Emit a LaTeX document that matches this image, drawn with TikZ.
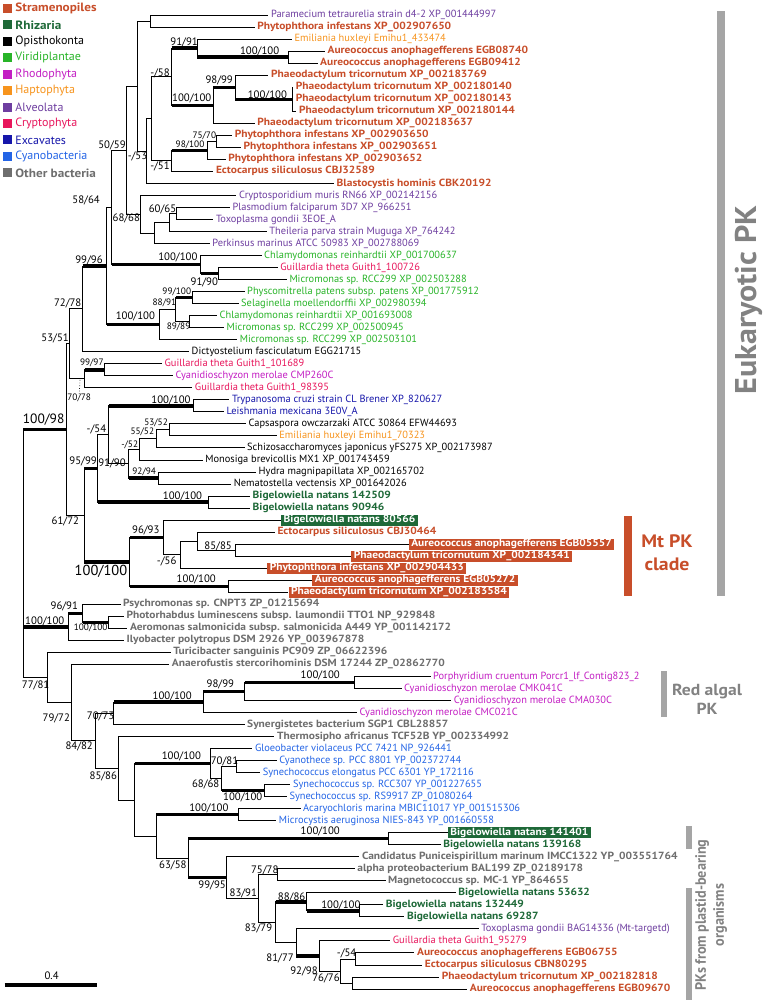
\documentclass[tikz,border=0pt]{standalone}
\usepackage{fontspec}
\setmainfont{PT Sans}[BoldFeatures={FakeStretch=1.1}]
\usepackage{graphicx}
\usetikzlibrary{calc}
\definecolor{stram}{RGB}{200,78,42}
\definecolor{rhiz}{RGB}{30,105,56}
\definecolor{viri}{RGB}{40,180,40}
\definecolor{rhod}{RGB}{195,30,195}
\definecolor{hapt}{RGB}{247,148,29}
\definecolor{alve}{RGB}{110,62,160}
\definecolor{cryp}{RGB}{232,22,92}
\definecolor{exca}{RGB}{22,22,170}
\definecolor{cyb}{RGB}{35,100,230}
\definecolor{othb}{RGB}{110,110,110}
\definecolor{bargray}{RGB}{165,165,165}
\definecolor{anngray}{RGB}{130,130,130}
\newcommand{\lfn}{\fontsize{10.4}{11}\selectfont}
\newcommand{\lgn}{\fontsize{12}{13}\selectfont}
\newcommand{\lbn}{\fontsize{10.8}{11}\selectfont}
\newcommand{\lbsm}{\fontsize{9.3}{10}\selectfont}
\tikzset{
 br/.style={line width=0.9pt},
 tk/.style={line width=3.4pt},
 leaf/.style={anchor=west, inner xsep=2.5pt, inner ysep=1pt, font=\lfn},
 st/.style={leaf, text=stram, font=\lfn\bfseries},
 rz/.style={leaf, text=rhiz, font=\lfn\bfseries},
 op/.style={leaf, text=black},
 vi/.style={leaf, text=viri},
 rh/.style={leaf, text=rhod},
 ha/.style={leaf, text=hapt},
 al/.style={leaf, text=alve},
 cr/.style={leaf, text=cryp},
 ex/.style={leaf, text=exca},
 cy/.style={leaf, text=cyb},
 ob/.style={leaf, text=othb, font=\lfn\bfseries},
 bxs/.style={leaf, fill=stram, text=white, font=\lfn\bfseries, minimum height=11pt, inner ysep=0.5pt},
 bxr/.style={leaf, fill=rhiz, text=white, font=\lfn\bfseries, minimum height=11pt, inner ysep=0.5pt},
 lb/.style={inner sep=0pt, font=\lbn},
 lbs/.style={inner sep=0pt, font=\lbsm},
 lbb/.style={inner sep=0pt, font=\fontsize{13.5}{14}\selectfont},
 lgsq/.style={minimum size=9pt, inner sep=0pt},
 lgt/.style={anchor=west, inner sep=0pt, font=\lgn},
}
\begin{document}
\begin{tikzpicture}[x=1pt,y=-1pt]
\useasboundingbox (0,0) rectangle (764,1004);
\fill[white] (0,0) rectangle (764,1004);

% ---------------- legend
\node[lgsq, fill=stram] (q1) at (7.3,8.3) {};
\node[lgt, text=stram, font=\lgn\bfseries] (g1) at (15.2,8.3) {Stramenopiles};
\node[lgsq, fill=rhiz] (q2) at (7.3,24.8) {};
\node[lgt, text=rhiz, font=\lgn\bfseries] (g2) at (15.2,24.8) {Rhizaria};
\node[lgsq, fill=black] (q3) at (7.3,41.2) {};
\node[lgt, text=black] (g3) at (15.2,41.2) {Opisthokonta};
\node[lgsq, fill=viri] (q4) at (7.3,57.7) {};
\node[lgt, text=viri] (g4) at (15.2,57.7) {Viridiplantae};
\node[lgsq, fill=rhod] (q5) at (7.3,74.1) {};
\node[lgt, text=rhod] (g5) at (15.2,74.1) {Rhodophyta};
\node[lgsq, fill=hapt] (q6) at (7.3,90.6) {};
\node[lgt, text=hapt] (g6) at (15.2,90.6) {Haptophyta};
\node[lgsq, fill=alve] (q7) at (7.3,107.0) {};
\node[lgt, text=alve] (g7) at (15.2,107.0) {Alveolata};
\node[lgsq, fill=cryp] (q8) at (7.3,123.5) {};
\node[lgt, text=cryp] (g8) at (15.2,123.5) {Cryptophyta};
\node[lgsq, fill=exca] (q9) at (7.3,139.9) {};
\node[lgt, text=exca] (g9) at (15.2,139.9) {Excavates};
\node[lgsq, fill=cyb] (q10) at (7.3,156.4) {};
\node[lgt, text=cyb] (g10) at (15.2,156.4) {Cyanobacteria};
\node[lgsq, fill=othb] (q11) at (7.3,172.8) {};
\node[lgt, text=othb, font=\lgn\bfseries] (g11) at (15.2,172.8) {Other bacteria};

% ---------------- leaves
\node[al] (l1) at (268.4,15.0) {Paramecium tetraurelia strain d4-2 XP\_001444997};
\node[st] (l2) at (254.6,27.0) {Phytophthora infestans XP\_002907650};
\node[ha] (l3) at (291.8,39.1) {Emiliania huxleyi Emihu1\_433474};
\node[st] (l4) at (324.9,51.1) {Aureococcus anophagefferens EGB08740};
\node[st] (l5) at (317.5,63.1) {Aureococcus anophagefferens EGB09412};
\node[st] (l6) at (268.4,75.1) {Phaeodactylum tricornutum XP\_002183769};
\node[st] (l7) at (293.2,87.2) {Phaeodactylum tricornutum XP\_002180140};
\node[st] (l8) at (293.2,99.2) {Phaeodactylum tricornutum XP\_002180143};
\node[st] (l9) at (296.4,111.2) {Phaeodactylum tricornutum XP\_002180144};
\node[st] (l10) at (254.6,123.2) {Phaeodactylum tricornutum XP\_002183637};
\node[st] (l11) at (232.1,135.3) {Phytophthora infestans XP\_002903650};
\node[st] (l12) at (240.8,147.3) {Phytophthora infestans XP\_002903651};
\node[st] (l13) at (225.7,159.3) {Phytophthora infestans XP\_002903652};
\node[st] (l14) at (213.3,171.3) {Ectocarpus siliculosus CBJ32589};
\node[st] (l15) at (334.0,183.4) {Blastocystis hominis CBK20192};
\node[al] (l16) at (236.3,195.4) {Cryptosporidium muris RN66 XP\_002142156};
\node[al] (l17) at (229.8,207.4) {Plasmodium falciparum 3D7 XP\_966251};
\node[al] (l18) at (213.3,219.4) {Toxoplasma gondii 3EOE\_A};
\node[al] (l19) at (266.6,231.5) {Theileria parva strain Muguga XP\_764242};
\node[al] (l20) at (209.6,243.5) {Perkinsus marinus ATCC 50983 XP\_002788069};
\node[vi] (l21) at (261.5,255.5) {Chlamydomonas reinhardtii XP\_001700637};
\node[cr] (l22) at (277.6,267.6) {Guillardia theta Guith1\_100726};
\node[vi] (l23) at (286.8,279.6) {Micromonas sp. RCC299 XP\_002503288};
\node[vi] (l24) at (244.5,291.6) {Physcomitrella patens subsp. patens XP\_001775912};
\node[vi] (l25) at (238.5,303.6) {Selaginella moellendorffii XP\_002980394};
\node[vi] (l26) at (217.0,315.7) {Chlamydomonas reinhardtii XP\_001693008};
\node[vi] (l27) at (223.9,327.7) {Micromonas sp. RCC299 XP\_002500945};
\node[vi] (l28) at (237.2,339.7) {Micromonas sp. RCC299 XP\_002503101};
\node[op] (l29) at (189.0,351.7) {Dictyostelium fasciculatum EGG21715};
\node[cr] (l30) at (161.9,363.7) {Guillardia theta Guith1\_101689};
\node[rh] (l31) at (172.9,375.8) {Cyanidioschyzon merolae CMP260C};
\node[cr] (l32) at (192.2,387.8) {Guillardia theta Guith1\_98395};
\node[ex] (l33) at (229.4,399.8) {Trypanosoma cruzi strain CL Brener XP\_820627};
\node[ex] (l34) at (223.9,411.9) {Leishmania mexicana 3E0V\_A};
\node[op] (l35) at (245.9,423.9) {Capsaspora owczarzaki ATCC 30864 EFW44693};
\node[ha] (l36) at (276.7,435.9) {Emiliania huxleyi Emihu1\_70323};
\node[op] (l37) at (244.5,447.9) {Schizosaccharomyces japonicus yFS275 XP\_002173987};
\node[op] (l38) at (202.7,460.0) {Monosiga brevicollis MX1 XP\_001743459};
\node[op] (l39) at (256.0,472.0) {Hydra magnipapillata XP\_002165702};
\node[op] (l40) at (231.2,484.0) {Nematostella vectensis XP\_001642026};
\node[rz] (l41) at (250.0,496.0) {Bigelowiella natans 142509};
\node[rz] (l42) at (250.0,508.1) {Bigelowiella natans 90946};
\node[bxr] (l43) at (281.0,520.1) {Bigelowiella natans 80566};
\node[st] (l44) at (274.8,532.1) {Ectocarpus siliculosus CBJ30464};
\node[bxs] (l45) at (408.6,544.1) {Aureococcus anophagefferens EGB05557};
\node[bxs] (l46) at (351.2,556.1) {Phaeodactylum tricornutum XP\_002184341};
\node[bxs] (l47) at (267.2,568.2) {Phytophthora infestans XP\_002904433};
\node[bxs] (l48) at (312.2,580.2) {Aureococcus anophagefferens EGB05272};
\node[bxs] (l49) at (288.3,592.2) {Phaeodactylum tricornutum XP\_002183584};
\node[ob] (l50) at (120.5,604.2) {Psychromonas sp. CNPT3 ZP\_01215694};
\node[ob] (l51) at (123.8,616.3) {Photorhabdus luminescens subsp. laumondii TTO1 NP\_929848};
\node[ob] (l52) at (127.4,628.3) {Aeromonas salmonicida subsp. salmonicida A449 YP\_001142172};
\node[ob] (l53) at (123.8,640.3) {Ilyobacter polytropus DSM 2926 YP\_003967878};
\node[ob] (l54) at (170.6,652.3) {Turicibacter sanguinis PC909 ZP\_06622396};
\node[ob] (l55) at (169.2,664.4) {Anaerofustis stercorihominis DSM 17244 ZP\_02862770};
\node[rh] (l56) at (430.5,676.4) {Porphyridium cruentum Porcr1\_lf\_Contig823\_2};
\node[rh] (l57) at (401.5,688.4) {Cyanidioschyzon merolae CMK041C};
\node[rh] (l58) at (451.1,700.4) {Cyanidioschyzon merolae CMA030C};
\node[rh] (l59) at (357.0,712.5) {Cyanidioschyzon merolae CMC021C};
\node[ob] (l60) at (244.5,724.5) {Synergistetes bacterium SGP1 CBL28857};
\node[ob] (l61) at (274.4,736.5) {Thermosipho africanus TCF52B YP\_002334992};
\node[cy] (l62) at (252.3,748.5) {Gloeobacter violaceus PCC 7421 NP\_926441};
\node[cy] (l63) at (276.7,760.6) {Cyanothece sp. PCC 8801 YP\_002372744};
\node[cy] (l64) at (260.1,772.6) {Synechococcus elongatus PCC 6301 YP\_172116};
\node[cy] (l65) at (290.4,784.6) {Synechococcus sp. RCC307 YP\_001227655};
\node[cy] (l66) at (286.8,796.6) {Synechococcus sp. RS9917 ZP\_01080264};
\node[cy] (l67) at (300.5,808.7) {Acaryochloris marina MBIC11017 YP\_001515306};
\node[cy] (l68) at (276.2,820.7) {Microcystis aeruginosa NIES-843 YP\_001660558};
\node[bxr] (l69) at (447.7,832.7) {Bigelowiella natans 141401};
\node[rz] (l70) at (440.6,844.7) {Bigelowiella natans 139168};
\node[ob] (l71) at (359.3,856.8) {Candidatus Puniceispirillum marinum IMCC1322 YP\_003551764};
\node[ob] (l72) at (354.7,868.8) {alpha proteobacterium BAL199 ZP\_02189178};
\node[ob] (l73) at (385.5,880.8) {Magnetococcus sp. MC-1 YP\_864655};
\node[rz] (l74) at (455.7,892.8) {Bigelowiella natans 53632};
\node[rz] (l75) at (383.2,904.8) {Bigelowiella natans 132449};
\node[rz] (l76) at (404.3,916.9) {Bigelowiella natans 69287};
\node[al] (l77) at (478.7,928.9) {Toxoplasma gondii BAG14336 (Mt-targetd)};
\node[cr] (l78) at (390.1,940.9) {Guillardia theta Guith1\_95279};
\node[st] (l79) at (414.4,952.9) {Aureococcus anophagefferens EGB06755};
\node[st] (l80) at (422.2,965.0) {Ectocarpus siliculosus CBN80295};
\node[st] (l81) at (439.2,977.0) {Phaeodactylum tricornutum XP\_002182818};
\node[st] (l82) at (467.2,989.0) {Aureococcus anophagefferens EGB09670};

% ---------------- internal nodes
\coordinate (A) at (150.6,21.0);
\coordinate (AU1) at (288.3,57.1);
\coordinate (B) at (197.4,48.1);
\coordinate (C1) at (292.0,99.2);
\coordinate (C2) at (235.0,87.2);
\coordinate (C3) at (213.3,105.2);
\coordinate (C4) at (171.7,76.7);
\coordinate (P1) at (216.7,141.3);
\coordinate (P2) at (207.5,150.3);
\coordinate (P3) at (171.7,160.8);
\coordinate (X) at (151.7,118.8);
\coordinate (Y) at (146.7,151.1);
\coordinate (E) at (137.7,86.1);
\coordinate (Al1) at (176.8,213.4);
\coordinate (Al2) at (169.0,222.5);
\coordinate (Al3) at (154.7,233.0);
\coordinate (Al4) at (140.0,214.2);
\coordinate (H) at (126.7,150.2);
\coordinate (Gr1) at (218.1,273.6);
\coordinate (Gr2) at (200.6,264.6);
\coordinate (I) at (111.7,207.4);
\coordinate (Gr3a) at (192.8,297.6);
\coordinate (Gr3c) at (189.6,321.7);
\coordinate (Gr3b) at (175.8,309.7);
\coordinate (Gr3) at (159.8,324.7);
\coordinate (J) at (106.5,266.1);
\coordinate (K) at (82.6,308.9);
\coordinate (Cr1) at (104.2,369.8);
\coordinate (Cr2) at (84.9,378.8);
\coordinate (L) at (69.0,343.9);
\coordinate (Tr) at (193.8,405.9);
\coordinate (Op1) at (169.9,429.9);
\coordinate (Op2) at (156.1,438.9);
\coordinate (Op3) at (139.1,449.5);
\coordinate (Op4) at (158.4,478.0);
\coordinate (Op5) at (128.6,463.8);
\coordinate (Q) at (108.8,434.9);
\coordinate (Bn1) at (208.9,502.1);
\coordinate (P) at (97.8,468.5);
\coordinate (Mt1) at (235.1,550.1);
\coordinate (Mt2) at (197.4,541.1);
\coordinate (Mt3) at (180.4,554.7);
\coordinate (Mt4) at (163.0,537.4);
\coordinate (Mt5) at (228.7,586.2);
\coordinate (Mt6) at (129.9,561.8);
\coordinate (O) at (84.0,515.2);
\coordinate (N) at (66.6,429.6);
\coordinate (Bp1) at (108.8,622.3);
\coordinate (Bp2) at (82.6,613.3);
\coordinate (Bac1) at (68.0,626.8);
\coordinate (Red1) at (354.9,682.4);
\coordinate (Red2) at (244.7,691.4);
\coordinate (Red3) at (203.4,702.0);
\coordinate (RA1) at (113.9,713.3);
\coordinate (Cy1) at (236.5,766.6);
\coordinate (Cy2) at (264.9,790.6);
\coordinate (Cy3) at (221.8,778.6);
\coordinate (Cy4) at (210.3,763.6);
\coordinate (Cy5) at (238.8,814.7);
\coordinate (Bn2) at (388.0,838.7);
\coordinate (Pr1) at (277.8,874.8);
\coordinate (Bn3) at (359.5,910.9);
\coordinate (Bn4) at (306.7,901.9);
\coordinate (St1) at (355.8,959.0);
\coordinate (St2) at (352.2,983.0);
\coordinate (St3) at (340.7,971.0);
\coordinate (St4) at (319.1,956.0);
\coordinate (Pl5) at (296.1,942.5);
\coordinate (Pl4) at (275.5,922.2);
\coordinate (Pl3) at (258.5,898.5);
\coordinate (Pl2) at (226.4,877.7);
\coordinate (Pl) at (188.2,858.2);
\coordinate (Cy7) at (156.1,836.5);
\coordinate (Cy6) at (134.5,800.1);
\coordinate (Rs4) at (118.5,768.3);
\coordinate (Rs3) at (95.5,740.8);
\coordinate (Rs2) at (71.2,702.6);
\coordinate (Rs1) at (47.3,677.5);
\coordinate (R0) at (23.0,553.5);

% ---------------- branches
\draw[br] (A) |- (l1.west) (A) |- (l2.west);
\draw[br] (E) |- (A) (E) |- (Y);
\draw[br] (Y) |- (X) (Y) |- (l15.west);
\draw[br] (X) |- (C4) (X) |- (P3);
\draw[br] (C4) |- (B) (C4) |- (C3);
\draw[br] (B) |- (l3.west) (B) |- (AU1);
\draw[br] (AU1) |- (l4.west) (AU1) |- (l5.west);
\draw[br] (C3) |- (C2) (C3) |- (l10.west);
\draw[br] (C2) |- (l6.west) (C2) |- (C1);
\draw[br] (C1) |- (l7.west) (C1) |- (l8.west) (C1) |- (l9.west);
\draw[br] (P3) |- (P2) (P3) |- (l14.west);
\draw[br] (P2) |- (P1) (P2) |- (l13.west);
\draw[br] (P1) |- (l11.west) (P1) |- (l12.west);
\draw[br] (H) |- (E) (H) |- (Al4);
\draw[br] (Al4) |- (l16.west) (Al4) |- (Al3);
\draw[br] (Al3) |- (Al2) (Al3) |- (l20.west);
\draw[br] (Al2) |- (Al1) (Al2) |- (l19.west);
\draw[br] (Al1) |- (l17.west) (Al1) |- (l18.west);
\draw[br] (I) |- (H) (I) |- (Gr2);
\draw[br] (Gr2) |- (l21.west) (Gr2) |- (Gr1);
\draw[br] (Gr1) |- (l22.west) (Gr1) |- (l23.west);
\draw[br] (J) |- (I) (J) |- (Gr3);
\draw[br] (Gr3) |- (Gr3b) (Gr3) |- (l28.west);
\draw[br] (Gr3b) |- (Gr3a) (Gr3b) |- (Gr3c);
\draw[br] (Gr3a) |- (l24.west) (Gr3a) |- (l25.west);
\draw[br] (Gr3c) |- (l26.west) (Gr3c) |- (l27.west);
\draw[br] (K) |- (J) (K) |- (l29.west);
\draw[br] (L) |- (K) (L) |- (Cr2);
\draw[br] (Cr2) |- (Cr1) (Cr2) |- (l32.west);
\draw[br] (Cr1) |- (l30.west) (Cr1) |- (l31.west);
\draw[br] (N) |- (L) (N) |- (O);
\draw[br] (O) |- (P) (O) |- (Mt6);
\draw[br] (P) |- (Q) (P) |- (Bn1);
\draw[br] (Q) |- (Tr) (Q) |- (Op5);
\draw[br] (Tr) |- (l33.west) (Tr) |- (l34.west);
\draw[br] (Op5) |- (Op3) (Op5) |- (Op4);
\draw[br] (Op3) |- (Op2) (Op3) |- (l38.west);
\draw[br] (Op2) |- (Op1) (Op2) |- (l37.west);
\draw[br] (Op1) |- (l35.west) (Op1) |- (l36.west);
\draw[br] (Op4) |- (l39.west) (Op4) |- (l40.west);
\draw[br] (Bn1) |- (l41.west) (Bn1) |- (l42.west);
\draw[br] (Mt6) |- (Mt4) (Mt6) |- (Mt5);
\draw[br] (Mt4) |- (l43.west) (Mt4) |- (Mt3);
\draw[br] (Mt3) |- (Mt2) (Mt3) |- (l47.west);
\draw[br] (Mt2) |- (l44.west) (Mt2) |- (Mt1);
\draw[br] (Mt1) |- (l45.west) (Mt1) |- (l46.west);
\draw[br] (Mt5) |- (l48.west) (Mt5) |- (l49.west);
\draw[br] (R0) |- (N) (R0) |- (Bac1) (R0) |- (Rs1);
\draw[br] (Bac1) |- (Bp2) (Bac1) |- (l53.west);
\draw[br] (Bp2) |- (l50.west) (Bp2) |- (Bp1);
\draw[br] (Bp1) |- (l51.west) (Bp1) |- (l52.west);
\draw[br] (Rs1) |- (l54.west) (Rs1) |- (Rs2);
\draw[br] (Rs2) |- (l55.west) (Rs2) |- (Rs3);
\draw[br] (Rs3) |- (RA1) (Rs3) |- (Rs4);
\draw[br] (RA1) |- (Red3) (RA1) |- (l60.west);
\draw[br] (Red3) |- (Red2) (Red3) |- (l59.west);
\draw[br] (Red2) |- (Red1) (Red2) |- (l58.west);
\draw[br] (Red1) |- (l56.west) (Red1) |- (l57.west);
\draw[br] (Rs4) |- (l61.west) (Rs4) |- (Cy6);
\draw[br] (Cy6) |- (Cy4) (Cy6) |- (Cy7);
\draw[br] (Cy4) |- (l62.west) (Cy4) |- (Cy3);
\draw[br] (Cy3) |- (Cy1) (Cy3) |- (Cy2);
\draw[br] (Cy1) |- (l63.west) (Cy1) |- (l64.west);
\draw[br] (Cy2) |- (l65.west) (Cy2) |- (l66.west);
\draw[br] (Cy7) |- (Cy5) (Cy7) |- (Pl);
\draw[br] (Cy5) |- (l67.west) (Cy5) |- (l68.west);
\draw[br] (Pl) |- (Bn2) (Pl) |- (Pl2);
\draw[br] (Bn2) |- (l69.west) (Bn2) |- (l70.west);
\draw[br] (Pl2) |- (l71.west) (Pl2) |- (Pl3);
\draw[br] (Pl3) |- (Pr1) (Pl3) |- (Pl4);
\draw[br] (Pr1) |- (l72.west) (Pr1) |- (l73.west);
\draw[br] (Pl4) |- (Bn4) (Pl4) |- (Pl5);
\draw[br] (Bn4) |- (l74.west) (Bn4) |- (Bn3);
\draw[br] (Bn3) |- (l75.west) (Bn3) |- (l76.west);
\draw[br] (Pl5) |- (l77.west) (Pl5) |- (St4);
\draw[br] (St4) |- (l78.west) (St4) |- (St3);
\draw[br] (St3) |- (St1) (St3) |- (St2);
\draw[br] (St1) |- (l79.west) (St1) |- (l80.west);
\draw[br] (St2) |- (l81.west) (St2) |- (l82.west);

% thick (well supported) branches
\draw[tk] (C4 |- B) -- (B);
\draw[tk] (B |- AU1) -- (AU1);
\draw[tk] (C4 |- C3) -- (C3);
\draw[tk] (C3 |- C2) -- (C2);
\draw[tk] (C2 |- C1) -- (C1);
\draw[tk] (P3 |- P2) -- (P2);
\draw[tk] (I |- Gr2) -- (Gr2);
\draw[tk] (Gr2 |- Gr1) -- (Gr1);
\draw[tk] (K |- J) -- (J);
\draw[tk] (J |- Gr3) -- (Gr3);
\draw[tk] (Gr3b |- Gr3a) -- (Gr3a);
\draw[tk] (Cr2 |- Cr1) -- (Cr1);
\draw[tk] (R0 |- N) -- (N);
\draw[tk] (Q |- Tr) -- (Tr);
\draw[tk] (Op5 |- Op4) -- (Op4);
\draw[tk] (O |- P) -- (P);
\draw[tk] (P |- Bn1) -- (Bn1);
\draw[tk] (O |- Mt6) -- (Mt6);
\draw[tk] (Mt6 |- Mt4) -- (Mt4);
\draw[tk] (Mt6 |- Mt5) -- (Mt5);
\draw[tk] (R0 |- Bac1) -- (Bac1);
\draw[tk] (Bac1 |- Bp2) -- (Bp2);
\draw[tk] (Bp2 |- Bp1) -- (Bp1);
\draw[tk] (RA1 |- Red3) -- (Red3);
\draw[tk] (Red3 |- Red2) -- (Red2);
\draw[tk] (Red2 |- Red1) -- (Red1);
\draw[tk] (Cy6 |- Cy4) -- (Cy4);
\draw[tk] (Cy3 |- Cy2) -- (Cy2);
\draw[tk] (Cy7 |- Cy5) -- (Cy5);
\draw[tk] (Pl |- Bn2) -- (Bn2);
\draw[tk] (Pl |- Pl2) -- (Pl2);
\draw[tk] (Pl4 |- Bn4) -- (Bn4);
\draw[tk] (Bn4 |- Bn3) -- (Bn3);
\draw[tk] (Pl5 |- St4) -- (St4);

% ---------------- support values
\node[lb] (s1) at (184.1,42.3) {91/91};
\node[lb] (s2) at (259.6,51.7) {100/100};
\node[lb] (s3) at (160.0,73.0) {-/58};
\node[lb] (s4) at (219.2,80.7) {98/99};
\node[lb] (s5) at (267.4,95.7) {100/100};
\node[lb] (s6) at (191.7,98.3) {100/100};
\node[lbs] (s7) at (204.3,136.0) {75/70};
\node[lbs] (s8) at (190.0,145.0) {98/100};
\node[lb] (s9) at (160.0,166.7) {-/51};
\node[lb] (s10) at (137.5,156.7) {-/53};
\node[lb] (s11) at (112.0,145.0) {50/59};
\node[lb] (s12) at (86.1,200.0) {58/64};
\node[lb] (s13) at (162.5,209.3) {60/65};
\node[lb] (s14) at (126.3,218.3) {68/68};
\node[lb] (s15) at (89.0,260.0) {99/96};
\node[lb] (s16) at (177.9,257.3) {100/100};
\node[lb] (s17) at (204.3,282.3) {91/90};
\node[lbs] (s18) at (176.8,291.7) {99/100};
\node[lbs] (s19) at (164.4,303.3) {88/91};
\node[lb] (s20) at (67.7,303.3) {72/78};
\node[lb] (s21) at (135.4,316.7) {100/100};
\node[lbs] (s22) at (178.6,326.7) {89/89};
\node[lb] (s23) at (55.1,338.3) {53/51};
\node[lbs] (s24) at (91.8,363.3) {99/97};
\node[lbs] (s25) at (79.2,398.3) {70/78};
\coordinate (dotend) at ($(L |- Cr2)!0.7!(Cr2)$);
\draw[dotted, line width=0.7pt] (s25.north) -- (dotend);
\node[lb] (s26) at (171.0,400.0) {100/100};
\node[lbb] (s27) at (43.6,420.0) {100/98};
\node[lb] (s28) at (96.4,429.3) {-/54};
\node[lbs] (s29) at (156.1,423.3) {53/52};
\node[lbs] (s30) at (142.3,431.7) {55/52};
\node[lbs] (s31) at (129.7,445.0) {-/52};
\node[lb] (s32) at (83.1,461.7) {95/99};
\node[lb] (s33) at (112.0,463.3) {91/90};
\node[lbs] (s34) at (144.2,471.7) {92/94};
\node[lb] (s35) at (182.5,496.0) {100/100};
\node[lb] (s36) at (65.4,521.7) {61/72};
\node[lb] (s37) at (145.8,530.0) {96/93};
\node[lb] (s38) at (218.1,546.7) {85/85};
\node[lb] (s39) at (166.7,561.7) {-/56};
\node[lbb, font=\fontsize{14.5}{15}\selectfont] (s40) at (101.0,571.7) {100/100};
\node[lb] (s41) at (196.3,579.3) {100/100};
\node[lb] (s42) at (64.3,606.7) {96/91};
\node[lb] (s43) at (44.8,621.7) {100/100};
\node[lbs] (s44) at (90.7,628.3) {100/100};
\node[lb] (s45) at (35.6,685.0) {77/81};
\node[lb] (s46) at (320.3,675.0) {100/100};
\node[lb] (s47) at (220.4,684.3) {98/99};
\node[lb] (s48) at (172.2,696.7) {100/100};
\node[lb] (s49) at (100.6,716.0) {70/73};
\node[lb] (s50) at (56.3,718.3) {79/72};
\node[lb] (s51) at (79.2,746.7) {84/82};
\node[lb] (s52) at (181.4,756.7) {100/100};
\node[lb] (s53) at (224.5,761.7) {70/81};
\node[lb] (s54) at (103.3,776.7) {85/86};
\node[lb] (s55) at (205.7,784.3) {68/68};
\node[lb] (s56) at (242.7,797.3) {100/100};
\node[lb] (s57) at (208.9,808.3) {100/100};
\node[lb] (s58) at (320.3,831.7) {100/100};
\node[lb] (s59) at (172.9,865.0) {63/58};
\node[lb] (s60) at (264.7,870.0) {75/78};
\node[lb] (s61) at (212.1,885.0) {99/95};
\node[lb] (s62) at (243.3,893.3) {83/91};
\node[lb] (s63) at (291.6,897.3) {88/86};
\node[lb] (s64) at (340.9,905.0) {100/100};
\node[lb] (s65) at (258.5,928.3) {83/79};
\node[lb] (s66) at (280.1,958.3) {81/77};
\node[lb] (s67) at (346.6,953.3) {-/54};
\node[lb] (s68) at (304.0,971.7) {92/98};
\node[lb] (s69) at (326.0,978.3) {76/76};

% ---------------- scale bar
\coordinate (sb1) at (4.6,985);
\coordinate (sb2) at (97.3,985);
\draw[line width=4pt] (sb1) -- (sb2);
\node[lb] (sbl) at (51.6,976.0) {0.4};

% ---------------- clade annotations
\fill[bargray] (717,11) rectangle (725,596);
\node[rotate=90, text=anngray, inner sep=0pt, font=\fontsize{30}{30}\selectfont\bfseries] (euk) at (749,300) {\scalebox{0.97}[1]{Eukaryotic PK}};
\fill[stram] (624,516) rectangle (632,596);
\node[text=stram, inner sep=0pt, align=center, font=\fontsize{18}{23}\selectfont\bfseries] (mtpk) at (667,553) {Mt PK\\clade};
\fill[bargray] (661,671) rectangle (667,717);
\node[text=anngray, inner sep=0pt, align=center, font=\fontsize{16}{19}\selectfont\bfseries] (rapk) at (707,699) {Red algal\\PK};
\fill[bargray] (686,826) rectangle (692,849);
\fill[bargray] (686,888) rectangle (692,1000);
\node[rotate=90, text=anngray, inner sep=0pt, align=center, font=\fontsize{15}{18}\selectfont\bfseries] (pkpl) at (711,915) {\scalebox{0.86}[1]{PKs from plastid-bearing}\\\scalebox{0.86}[1]{organisms}};
\end{tikzpicture}
\end{document}
